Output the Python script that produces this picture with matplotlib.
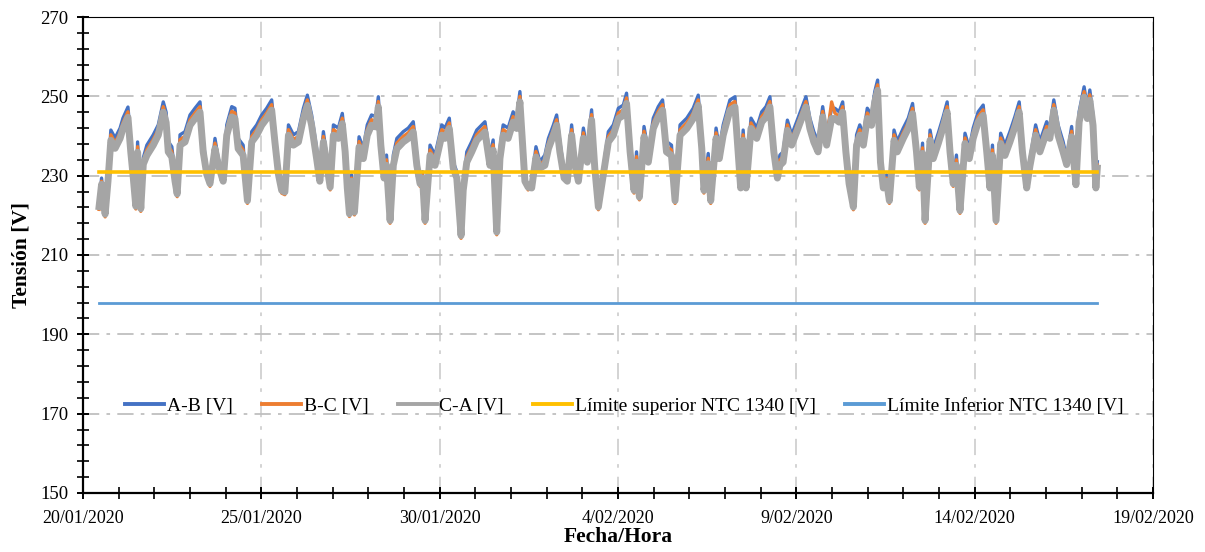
import matplotlib
matplotlib.use("Agg")
import matplotlib.pyplot as plt
import matplotlib.dates as mdates
from matplotlib.ticker import FuncFormatter
import pandas as pd
import numpy as np

# Time in days since 20/01/2020 00:00
dias = [0.45, 0.52, 0.62, 0.70, 0.78, 0.90, 1.04, 1.12, 1.26, 1.34, 1.40, 1.48, 1.53, 1.62, 1.69, 1.79, 1.97,
        2.11, 2.25, 2.33, 2.39, 2.49, 2.58, 2.64, 2.72, 2.86, 3.00, 3.14, 3.28, 3.37, 3.47, 3.56, 3.70, 3.79,
        3.93, 4.03, 4.17, 4.26, 4.35, 4.49, 4.61, 4.73, 4.87, 5.01, 5.15, 5.29, 5.38, 5.48, 5.57, 5.66, 5.76,
        5.90, 6.04, 6.18, 6.29, 6.41, 6.55, 6.64, 6.74, 6.85, 6.93, 7.02, 7.16, 7.27, 7.35, 7.41, 7.47, 7.53,
        7.61, 7.74, 7.86, 7.97, 8.09, 8.21, 8.28, 8.35, 8.44, 8.51, 8.61, 8.70, 8.80, 8.98, 9.12, 9.26, 9.36,
        9.45, 9.52, 9.59, 9.73, 9.87, 10.06, 10.15, 10.27, 10.38, 10.48, 10.60, 10.66, 10.76, 10.90, 11.04,
        11.27, 11.41, 11.50, 11.60, 11.69, 11.78, 11.92, 12.06, 12.16, 12.25, 12.32, 12.39, 12.48, 12.58,
        12.70, 12.81, 12.95, 13.05, 13.19, 13.28, 13.37, 13.49, 13.58, 13.70, 13.79, 13.89, 14.03, 14.14,
        14.26, 14.35, 14.45, 14.59, 14.73, 14.87, 15.01, 15.15, 15.24, 15.34, 15.45, 15.52, 15.60, 15.73,
        15.85, 15.99, 16.13, 16.25, 16.36, 16.50, 16.60, 16.74, 16.93, 17.11, 17.25, 17.35, 17.41, 17.53,
        17.60, 17.75, 17.84, 17.95, 18.14, 18.28, 18.37, 18.44, 18.51, 18.59, 18.73, 18.89, 19.03, 19.15,
        19.26, 19.37, 19.47, 19.54, 19.63, 19.75, 19.87, 20.01, 20.15, 20.27, 20.38, 20.49, 20.61, 20.74,
        20.85, 20.99, 21.08, 21.20, 21.30, 21.39, 21.48, 21.60, 21.69, 21.78, 21.88, 21.99, 22.11, 22.20,
        22.28, 22.36, 22.44, 22.53, 22.61, 22.74, 22.83, 23.00, 23.14, 23.26, 23.37, 23.45, 23.54, 23.61,
        23.75, 23.84, 23.98, 24.12, 24.23, 24.31, 24.40, 24.49, 24.59, 24.73, 24.85, 24.96, 25.10, 25.24,
        25.34, 25.43, 25.50, 25.60, 25.73, 25.85, 25.99, 26.13, 26.25, 26.34, 26.46, 26.55, 26.71, 26.83,
        27.02, 27.11, 27.22, 27.34, 27.48, 27.58, 27.72, 27.84, 27.93, 28.07, 28.16, 28.23, 28.32, 28.40,
        28.44]

ab = [221.9, 229.4, 220.0, 230.2, 241.5, 239.5, 242.0, 244.5, 247.3, 238.5, 232.0, 222.0, 238.5, 221.4, 234.5,
      237.7, 240.3, 242.8, 248.6, 246.0, 238.6, 237.3, 230.2, 225.1, 240.3, 241.1, 245.3, 247.0, 248.6, 238.6,
      231.9, 227.7, 239.4, 234.4, 230.2, 242.8, 247.4, 247.0, 239.4, 237.7, 223.4, 241.1, 242.8, 245.3, 247.0,
      249.1, 241.1, 231.9, 226.0, 225.6, 242.8, 240.3, 241.1, 247.0, 250.3, 245.3, 236.9, 230.2, 241.1, 233.5,
      226.8, 242.8, 242.0, 245.7, 238.6, 228.5, 220.1, 230.2, 220.5, 239.8, 236.9, 242.8, 245.3, 244.9, 249.9,
      240.3, 231.0, 235.2, 218.4, 235.2, 239.4, 241.1, 242.0, 243.6, 235.2, 227.7, 231.0, 218.4, 237.7, 235.2,
      242.8, 242.0, 244.5, 233.5, 231.0, 214.6, 226.0, 236.0, 238.6, 241.5, 243.6, 235.2, 239.0, 215.5, 236.9,
      242.8, 242.0, 246.1, 244.5, 251.2, 241.1, 230.2, 226.8, 228.5, 237.3, 233.5, 235.2, 239.4, 242.8, 245.3,
      238.6, 231.0, 230.2, 242.8, 234.4, 230.2, 242.0, 236.0, 246.6, 233.5, 221.8, 231.9, 241.1, 242.8, 247.0,
      247.8, 250.8, 238.6, 226.0, 236.0, 224.3, 242.4, 236.0, 244.5, 247.4, 249.1, 238.6, 237.7, 223.4, 242.8,
      244.5, 247.0, 250.3, 239.4, 226.0, 235.6, 223.4, 242.0, 236.9, 242.8, 249.1, 249.9, 238.6, 228.5, 241.5,
      228.5, 244.5, 242.0, 246.1, 247.4, 249.9, 238.6, 231.0, 235.2, 236.0, 244.0, 240.3, 243.6, 247.0, 249.9,
      244.5, 241.1, 238.6, 247.4, 240.3, 247.0, 247.0, 246.1, 248.6, 238.6, 227.7, 221.8, 240.3, 242.8, 240.3,
      247.0, 245.3, 251.2, 254.1, 236.0, 228.5, 230.2, 223.4, 241.5, 238.6, 242.0, 244.5, 248.2, 238.6, 226.8,
      238.2, 218.4, 241.5, 236.9, 240.7, 244.9, 248.6, 238.6, 227.7, 235.2, 220.9, 240.7, 236.9, 242.0, 246.1,
      247.8, 238.6, 228.5, 237.7, 218.4, 240.7, 237.7, 241.1, 244.9, 248.6, 238.6, 228.5, 234.0, 242.8, 238.6,
      243.6, 242.0, 249.1, 242.8, 238.6, 234.4, 242.4, 229.3, 246.1, 252.4, 247.0, 251.6, 245.3, 228.5, 233.5]

bc = [221.5, 228.6, 219.6, 229.4, 240.3, 238.3, 240.8, 243.3, 246.1, 237.3, 231.2, 221.6, 237.3, 221.0, 233.7,
      236.5, 239.1, 241.6, 247.4, 244.8, 237.4, 236.1, 229.4, 224.7, 239.1, 239.9, 244.1, 245.8, 247.4, 237.4,
      231.1, 227.3, 238.2, 233.6, 229.4, 241.6, 246.2, 245.8, 238.2, 236.5, 223.0, 239.9, 241.6, 244.1, 245.8,
      247.9, 239.9, 231.1, 225.6, 225.2, 241.6, 239.1, 239.9, 245.8, 249.1, 244.1, 235.7, 229.4, 239.9, 232.7,
      226.4, 241.6, 240.8, 244.5, 237.4, 227.7, 219.7, 229.4, 220.1, 238.6, 235.7, 241.6, 244.1, 243.7, 248.7,
      239.1, 230.2, 234.0, 218.0, 234.0, 238.2, 239.9, 240.8, 242.4, 234.0, 227.3, 230.2, 218.0, 236.5, 234.0,
      241.6, 240.8, 243.3, 232.7, 230.2, 214.2, 225.6, 234.8, 237.4, 240.3, 242.4, 234.0, 237.8, 215.1, 235.7,
      241.6, 240.8, 244.9, 243.3, 250.0, 239.9, 229.4, 226.4, 227.7, 236.1, 232.7, 234.0, 238.2, 241.6, 244.1,
      237.4, 230.2, 229.4, 241.6, 233.6, 229.4, 240.8, 234.8, 245.4, 232.7, 221.4, 231.1, 239.9, 241.6, 245.8,
      246.6, 249.6, 237.4, 225.6, 234.8, 223.9, 241.2, 234.8, 243.3, 246.2, 247.9, 237.4, 236.5, 223.0, 241.6,
      243.3, 245.8, 249.1, 238.2, 225.6, 234.4, 223.0, 240.8, 235.7, 241.6, 247.9, 248.7, 237.4, 227.7, 240.3,
      227.7, 243.3, 240.8, 244.9, 246.2, 248.7, 237.4, 230.2, 234.0, 234.8, 242.8, 239.1, 242.4, 245.8, 248.7,
      243.3, 239.9, 237.4, 246.2, 239.1, 248.6, 245.8, 244.9, 247.4, 237.4, 227.3, 221.4, 239.1, 241.6, 239.1,
      245.8, 244.1, 250.0, 252.9, 234.8, 227.7, 229.4, 223.0, 240.3, 237.4, 240.8, 243.3, 247.0, 237.4, 226.4,
      237.0, 218.0, 240.3, 235.7, 239.5, 243.7, 247.4, 237.4, 227.3, 234.0, 220.5, 239.5, 235.7, 240.8, 244.9,
      246.6, 237.4, 227.7, 236.5, 218.0, 239.5, 236.5, 239.9, 243.7, 247.4, 237.4, 227.7, 233.2, 241.6, 237.4,
      242.4, 240.8, 247.9, 241.6, 237.4, 233.6, 241.2, 228.5, 244.9, 251.2, 245.8, 250.4, 244.1, 227.7, 232.7]

ca = [222.2, 227.8, 220.3, 228.6, 238.9, 236.9, 239.4, 241.9, 244.7, 235.9, 230.4, 222.3, 235.9, 221.7, 232.9,
      235.1, 237.7, 240.2, 246.0, 243.4, 236.0, 234.7, 228.6, 225.4, 237.7, 238.5, 242.7, 244.4, 246.0, 236.0,
      230.3, 228.0, 236.8, 232.8, 228.6, 240.2, 244.8, 244.4, 236.8, 235.1, 223.7, 238.5, 240.2, 242.7, 244.4,
      246.5, 238.5, 230.3, 226.3, 225.9, 240.2, 237.7, 238.5, 244.4, 247.7, 242.7, 234.3, 228.6, 238.5, 231.9,
      227.1, 240.2, 239.4, 243.1, 236.0, 226.9, 220.4, 228.6, 220.8, 237.2, 234.3, 240.2, 242.7, 242.3, 247.3,
      237.7, 229.4, 232.6, 218.7, 232.6, 236.8, 238.5, 239.4, 241.0, 232.6, 228.0, 229.4, 218.7, 235.1, 232.6,
      240.2, 239.4, 241.9, 231.9, 229.4, 214.9, 226.3, 233.4, 236.0, 238.9, 241.0, 232.6, 236.4, 215.8, 234.3,
      240.2, 239.4, 243.5, 241.9, 248.6, 238.5, 228.6, 227.1, 226.9, 234.7, 231.9, 232.6, 236.8, 240.2, 242.7,
      236.0, 229.4, 228.6, 240.2, 232.8, 228.6, 239.4, 233.4, 244.0, 231.9, 222.1, 230.3, 238.5, 240.2, 244.4,
      245.2, 248.2, 236.0, 226.3, 233.4, 224.6, 239.8, 233.4, 241.9, 244.8, 246.5, 236.0, 235.1, 223.7, 240.2,
      241.9, 244.4, 247.7, 236.8, 226.3, 233.0, 223.7, 239.4, 234.3, 240.2, 246.5, 247.3, 236.0, 226.9, 238.9,
      226.9, 241.9, 239.4, 243.5, 244.8, 247.3, 236.0, 229.4, 232.6, 233.4, 241.4, 237.7, 241.0, 244.4, 247.3,
      241.9, 238.5, 236.0, 244.8, 237.7, 244.4, 244.4, 243.5, 246.0, 236.0, 228.0, 222.1, 237.7, 240.2, 237.7,
      244.4, 242.7, 248.6, 251.5, 233.4, 226.9, 228.6, 223.7, 238.9, 236.0, 239.4, 241.9, 245.6, 236.0, 227.1,
      235.6, 218.7, 238.9, 234.3, 238.1, 242.3, 246.0, 236.0, 228.0, 232.6, 221.2, 238.1, 234.3, 239.4, 243.5,
      245.2, 236.0, 226.9, 235.1, 218.7, 238.1, 235.1, 238.5, 242.3, 246.0, 236.0, 226.9, 232.4, 240.2, 236.0,
      241.0, 239.4, 246.5, 240.2, 236.0, 232.8, 239.8, 227.7, 243.5, 249.8, 244.4, 249.0, 242.7, 226.9, 231.9]

lim_sup = 231
lim_inf = 198

nombres = ["A-B [V]", "B-C [V]", "C-A [V]", "Límite superior NTC 1340 [V]", "Límite Inferior NTC 1340 [V]"]
colores = ["#4472C4", "#ED7D31", "#A5A5A5", "#FFC000", "#5B9BD5"]

base = pd.Timestamp("2020-01-20")
t = base + pd.to_timedelta(np.array(dias), unit="D")

plt.rcParams["font.family"] = ["Liberation Serif", "DejaVu Serif"]

fig = plt.figure(figsize=(12.05, 5.52), dpi=100)
ax = fig.add_axes([0.0689, 0.1069, 0.8879, 0.8623])

ax.plot(t, ab, color=colores[0], lw=2.4, label=nombres[0], zorder=3)
ax.plot(t, bc, color=colores[1], lw=2.4, label=nombres[1], zorder=4)
ax.plot(t, ca, color=colores[2], lw=5.0, label=nombres[2], zorder=5)
ax.plot([t[0], t[-1]], [lim_sup, lim_sup], color=colores[3], lw=2.6, label=nombres[3], zorder=6)
ax.plot([t[0], t[-1]], [lim_inf, lim_inf], color=colores[4], lw=2.0, label=nombres[4], zorder=6)

ax.set_xlim(base, base + pd.Timedelta(days=30))
ax.set_ylim(150, 270)

major_days = [base + pd.Timedelta(days=5 * i) for i in range(7)]
ax.set_xticks([mdates.date2num(d) for d in major_days])
ax.set_xticks([mdates.date2num(base + pd.Timedelta(days=i)) for i in range(31)], minor=True)
ax.xaxis.set_major_formatter(FuncFormatter(
    lambda x, pos: (lambda d: f"{d.day}/{d.month:02d}/{d.year}")(mdates.num2date(x))))

ax.set_yticks(np.arange(150, 271, 20))
ax.set_yticks(np.arange(150, 271, 4), minor=True)

ax.tick_params(axis="both", which="major", direction="inout", length=9, width=1.4, colors="#000000")
ax.tick_params(axis="both", which="minor", direction="inout", length=8, width=1.2)
ax.tick_params(axis="x", which="major", pad=8, labelsize=13)
ax.tick_params(axis="y", which="major", pad=6, labelsize=13.5)

ax.grid(True, axis="y", which="major", color="#BFBFBF", lw=1.3, linestyle=(0, (9, 4, 2, 4)), zorder=0)
ax.grid(True, axis="x", which="major", color="#D0D0D0", lw=1.3, linestyle=(0, (9, 5, 2, 5)), zorder=0)
ax.set_axisbelow(True)

for s in ["left", "bottom"]:
    ax.spines[s].set_linewidth(1.6)
    ax.spines[s].set_color("#000000")
for s in ["top", "right"]:
    ax.spines[s].set_linewidth(0.8)
    ax.spines[s].set_color("#000000")

ax.set_ylabel("Tensión [V]", fontsize=15.5, fontweight="bold", labelpad=6)
ax.set_xlabel("Fecha/Hora", fontsize=15.5, fontweight="bold", labelpad=0)

leg = ax.legend(loc="center", bbox_to_anchor=(0.506, 0.182), ncol=5, frameon=False, fontsize=14,
                handlelength=2.0, columnspacing=1.5, handletextpad=0.15, borderaxespad=0)
for h in leg.get_lines():
    h.set_linewidth(2.8)

fig.savefig("out.png", dpi=100)
